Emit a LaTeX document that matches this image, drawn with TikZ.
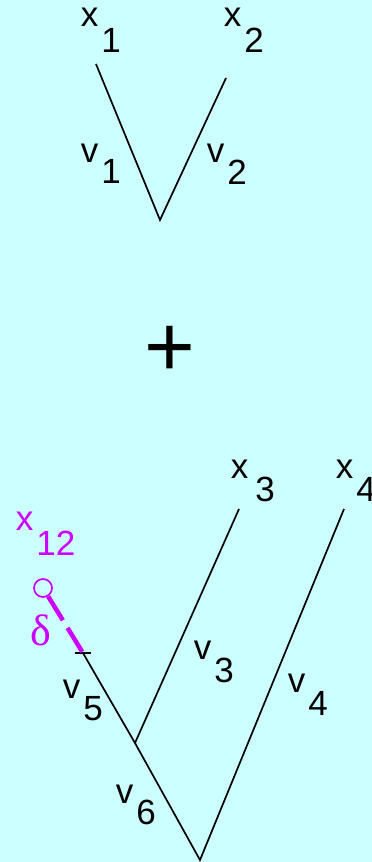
\documentclass[tikz,border=0pt]{standalone}
\usepackage{fontspec}
\setmainfont{Liberation Sans}
\newfontfamily\deltafont{Liberation Serif}
\definecolor{bgcyan}{RGB}{204,255,255}
\definecolor{tagpink}{RGB}{204,0,255}
% letter with its index set lower at the same size
\newcommand{\sublab}[3][23pt]{#2\hspace{3pt}\raisebox{-#1}{#3}}
\begin{document}
\begin{tikzpicture}[x=1pt, y=-1pt, line width=1.7pt,
    lab/.style={anchor=base west, inner sep=0pt, font=\fontsize{35}{35}\selectfont}]
    % Nền
    \fill[bgcyan] (0,0) rectangle (372,862);
    \useasboundingbox (0,0) rectangle (372,862);

    % Cây trên: x1, x2
    \coordinate (top1) at (96,64);
    \coordinate (top2) at (226,78);
    \coordinate (root12) at (160,220);
    \draw (top1) -- (root12) -- (top2);
    \node[lab] (x1) at (80,27) {\sublab[26pt]{x}{1}};
    \node[lab] (x2) at (223,27) {\sublab[25pt]{x}{2}};
    \node[lab] (v1) at (80,162) {\sublab[21pt]{v}{1}};
    \node[lab] (v2) at (206,162) {\sublab[22pt]{v}{2}};

    % Dấu cộng
    \node[anchor=base, inner sep=0pt, font=\fontsize{87}{87}\selectfont] (plus) at (170,376) {+};

    % Cây dưới: x3, x4 và nhánh v5 có gắn x12
    \coordinate (top3) at (239,509);
    \coordinate (top4) at (344,509);
    \coordinate (join) at (135,743);
    \coordinate (tip5) at (83,653);
    \coordinate (root34) at (200,860);
    \draw (tip5) -- (join) -- (root34) -- (top4);
    \draw (join) -- (top3);
    \draw ([xshift=-8pt]tip5) -- ([xshift=8pt]tip5);
    \node[lab] (x3) at (230,478) {\sublab{x}{\hspace{4pt}3}};
    \node[lab] (x4) at (335,478) {\sublab{x}{4}};
    \node[lab] (v3) at (193,659) {\sublab{v}{3}};
    \node[lab] (v4) at (287,692) {\sublab{v}{4}};
    \node[lab] (v5) at (62,698) {\sublab[22pt]{v}{5}};
    \node[lab] (v6) at (115,803) {\sublab[21pt]{v}{6}};

    % x12 nối vào đầu v5
    \node[circle, draw=tagpink, minimum size=18pt, inner sep=0pt] (ball) at (43,588) {};
    \draw[tagpink, line width=4.5pt, dash pattern=on 28pt off 9pt] (ball) -- (tip5);
    \node[lab, text=tagpink] (x12) at (15,530) {\sublab[25pt]{x}{12}};
    \node[anchor=base west, inner sep=0pt, text=tagpink,
        font=\deltafont\fontsize{44}{44}\selectfont] (delta) at (30,645) {δ};
\end{tikzpicture}
\end{document}
